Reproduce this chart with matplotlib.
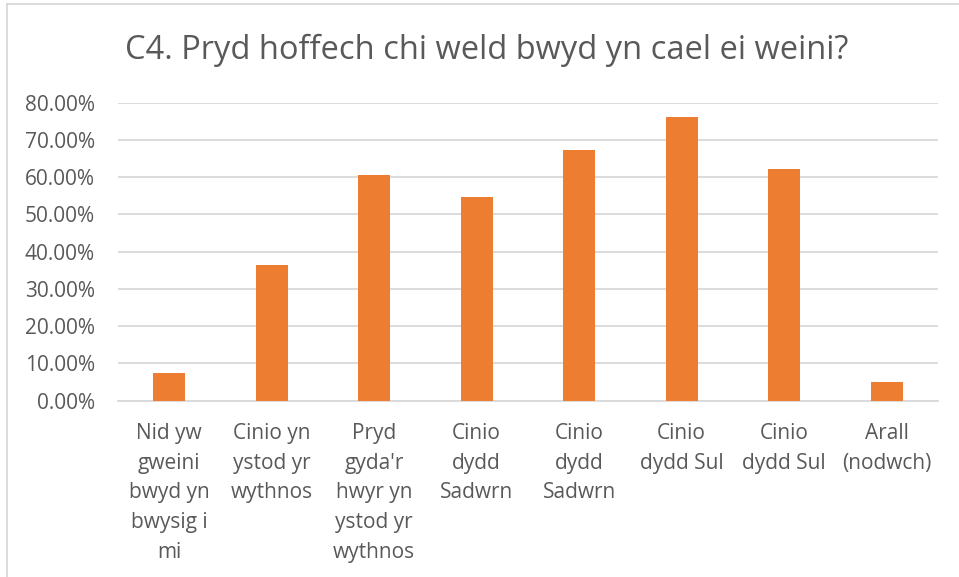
import matplotlib.pyplot as plt
import numpy as np
from matplotlib.lines import Line2D
from matplotlib.ticker import PercentFormatter

categories = [
    'Nid yw\ngweini\nbwyd yn\nbwysig i\nmi',
    'Cinio yn\nystod yr\nwythnos',
    "Pryd\ngyda'r\nhwyr yn\nystod yr\nwythnos",
    'Cinio\ndydd\nSadwrn',
    'Cinio\ndydd\nSadwrn',
    'Cinio\ndydd Sul',
    'Cinio\ndydd Sul',
    'Arall\n(nodwch)',
]
values = [7.4, 36.3, 60.6, 54.7, 67.2, 76.2, 62.1, 5.1]
yticks = [0, 10, 20, 30, 40, 50, 60, 70, 80]

text_col = '#595959'
grid_col = '#D9D9D9'
plt.rcParams['font.family'] = ['Open Sans', 'DejaVu Sans']

fig = plt.figure(figsize=(9.59, 5.77), dpi=100)
ax = fig.add_axes([0.123, 0.3055, 0.855, 0.5165])

x = np.arange(len(categories))
ax.bar(x, values, width=0.31, color='#ED7D31', zorder=3)

ax.set_xlim(-0.5, len(categories) - 0.5)
ax.set_ylim(0, 80)
ax.set_yticks(yticks)
ax.yaxis.set_major_formatter(PercentFormatter(decimals=2))
ax.set_xticks(x)
ax.set_xticklabels(categories, linespacing=1.54, va='top')

ax.grid(axis='y', color=grid_col, linewidth=1.3, zorder=0)
for s in ['top', 'right', 'left']:
    ax.spines[s].set_visible(False)
ax.spines['bottom'].set_color(grid_col)
ax.spines['bottom'].set_linewidth(1.3)
ax.tick_params(axis='both', length=0, colors=text_col, labelsize=15)
ax.tick_params(axis='y', pad=16.5)
ax.tick_params(axis='x', pad=16)

fig.text(0.507, 0.912, 'C4. Pryd hoffech chi weld bwyd yn cael ei weini?',
         ha='center', va='center', fontsize=23.5, color=text_col)

# chart frame (left and top edges visible)
fig.add_artist(Line2D([0.0075, 0.0075], [0, 0.993], transform=fig.transFigure,
                      color=grid_col, linewidth=1.3))
fig.add_artist(Line2D([0.0075, 1.0], [0.993, 0.993], transform=fig.transFigure,
                      color=grid_col, linewidth=1.3))

fig.savefig('out.png', dpi=100)
